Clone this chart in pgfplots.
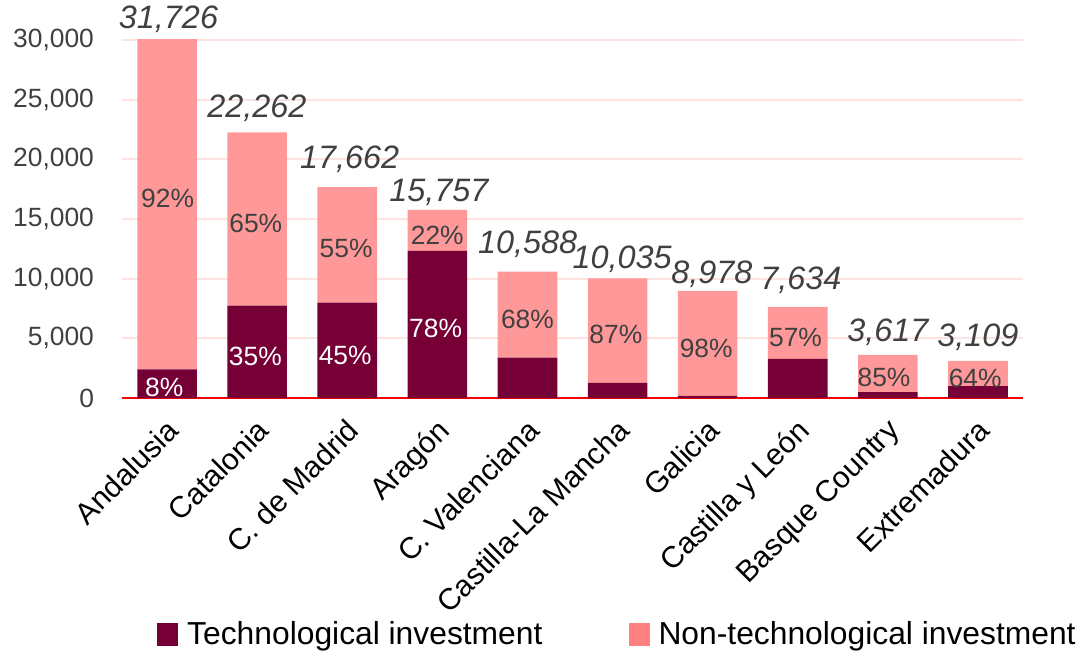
\documentclass[border=0pt]{standalone}
\usepackage{fontspec}
\setmainfont{Liberation Sans}
\usepackage{pgfplots}
\usepackage{pgfplotstable}
\pgfplotsset{compat=1.18}
\definecolor{techdark}{RGB}{118,0,54}
\definecolor{nontech}{RGB}{255,153,153}
\definecolor{nontechleg}{RGB}{255,128,128}
\definecolor{gridpink}{RGB}{255,226,226}
\definecolor{labelgray}{RGB}{64,64,64}

% x: region index, tech / nontech investment
\pgfplotstableread{
x tech nontech
0 2400 29326
1 7750 14512
2 8000 9662
3 12330 3427
4 3380 7208
5 1270 8765
6 180 8798
7 3270 4364
8 500 3117
9 1000 2109
}\invest

\begin{document}
\begin{tikzpicture}[
  tot/.style={font=\fontsize{16.2}{19}\selectfont\itshape, text=labelgray, inner sep=0pt},
  pl/.style={font=\fontsize{13.2}{15}\selectfont, text=labelgray, inner sep=0pt},
  pw/.style={font=\fontsize{13.2}{15}\selectfont, text=white, inner sep=0pt},
]
\path (0,0) rectangle (539.5pt,327pt);
\begin{axis}[
  at={(61pt,128pt)}, anchor=south west, scale only axis,
  width=450.5pt, height=179pt,
  ybar stacked, bar width=29.8pt,
  xmin=-0.5, xmax=9.5, ymin=0, ymax=30000,
  xtick={0,...,9},
  xticklabels={Andalusia,Catalonia,C. de Madrid,Aragón,C. Valenciana,Castilla-La Mancha,Galicia,Castilla y León,Basque Country,Extremadura},
  ytick={0,5000,...,30000},
  scaled y ticks=false,
  /pgf/number format/.cd, 1000 sep={,}, assume math mode=true, /pgfplots/.cd,
  ymajorgrids, grid style={gridpink, line width=1pt},
  axis x line=bottom, axis y line*=left,
  x axis line style={red, line width=1.3pt, -},
  y axis line style={draw=none},
  major tick length=0pt,
  yticklabel style={font=\fontsize{13.2}{15}\selectfont, text=labelgray, xshift=-10.5pt},
  xticklabel style={font=\fontsize{15}{18}\selectfont, rotate=45, anchor=north east, inner sep=0pt, xshift=-7.4pt, yshift=-6pt},
  legend style={at={(0.032,-0.612)}, anchor=north west, draw=none, fill=none,
    legend columns=2, font=\fontsize{15.9}{18}\selectfont,
    /tikz/every even column/.append style={column sep=43pt},
    /tikz/every odd column/.append style={column sep=4.5pt},
    nodes={inner sep=0pt}},
]
\addplot[fill=techdark, draw=none,
  legend image code/.code={\fill[techdark] (0pt,-5.75pt) rectangle (10.5pt,5.75pt);}]
  table[x=x, y=tech] {\invest};
\addplot[fill=nontech, draw=none,
  legend image code/.code={\fill[nontechleg] (0pt,-5.75pt) rectangle (10.5pt,5.75pt);}]
  table[x=x, y=nontech] {\invest};
\legend{Technological investment, Non-technological investment}

% label anchors: totals (t), shares (p, q)
\coordinate (t0) at (axis cs:0.016,31757);
\coordinate (t1) at (axis cs:0.997,24319);
\coordinate (t2) at (axis cs:2.027,19973);
\coordinate (t3) at (axis cs:3.018,17215);
\coordinate (t4) at (axis cs:4.003,12870);
\coordinate (t5) at (axis cs:5.05,11616);
\coordinate (t6) at (axis cs:6.047,10363);
\coordinate (t7) at (axis cs:7.034,9861);
\coordinate (t8) at (axis cs:8.001,5516);
\coordinate (t9) at (axis cs:8.998,5098);
\coordinate (p0) at (axis cs:0.006,16714);
\coordinate (q0) at (axis cs:-0.032,919);
\coordinate (p1) at (axis cs:0.985,14625);
\coordinate (q1) at (axis cs:0.98,3510);
\coordinate (p2) at (axis cs:1.987,12536);
\coordinate (q2) at (axis cs:1.977,3594);
\coordinate (p3) at (axis cs:2.999,13622);
\coordinate (q3) at (axis cs:2.981,5850);
\coordinate (p4) at (axis cs:4.0,6602);
\coordinate (p5) at (axis cs:4.981,5348);
\coordinate (p6) at (axis cs:5.984,4179);
\coordinate (p7) at (axis cs:6.975,5098);
\coordinate (p8) at (axis cs:7.957,1755);
\coordinate (p9) at (axis cs:8.969,1671);
\end{axis}

\node[tot] at (t0) {31,726};
\node[tot] at (t1) {22,262};
\node[tot] at (t2) {17,662};
\node[tot] at (t3) {15,757};
\node[tot] at (t4) {10,588};
\node[tot] at (t5) {10,035};
\node[tot] at (t6) {8,978};
\node[tot] at (t7) {7,634};
\node[tot] at (t8) {3,617};
\node[tot] at (t9) {3,109};

\node[pl] at (p0) {92\%};
\node[pw] at (q0) {8\%};
\node[pl] at (p1) {65\%};
\node[pw] at (q1) {35\%};
\node[pl] at (p2) {55\%};
\node[pw] at (q2) {45\%};
\node[pl] at (p3) {22\%};
\node[pw] at (q3) {78\%};
\node[pl] at (p4) {68\%};
\node[pl] at (p5) {87\%};
\node[pl] at (p6) {98\%};
\node[pl] at (p7) {57\%};
\node[pl] at (p8) {85\%};
\node[pl] at (p9) {64\%};

\pgfresetboundingbox
\path[use as bounding box] (0,0) rectangle (539.5pt,327pt);
\end{tikzpicture}
\end{document}
